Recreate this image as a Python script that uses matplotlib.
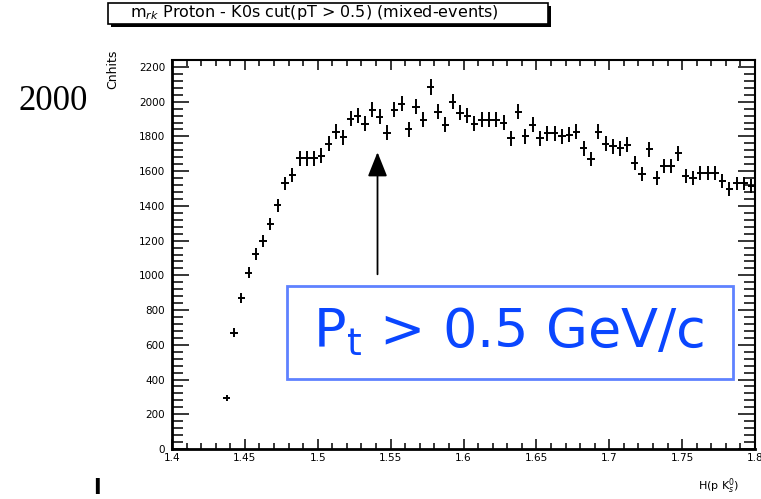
import numpy as np
import matplotlib
matplotlib.use("Agg")
import matplotlib.pyplot as plt
from matplotlib.patches import Rectangle
from matplotlib.ticker import MultipleLocator, FormatStrFormatter

# invariant mass histogram, 0.005 GeV bins starting at 1.435
bin_lo = 1.435
bin_w = 0.005
counts = [292, 670, 871, 1014, 1123, 1198, 1295, 1404, 1530, 1576,
          1673, 1673, 1673, 1690, 1759, 1828, 1795, 1903, 1920, 1874,
          1954, 1914, 1822, 1954, 1989, 1840, 1971, 1897, 2086, 1943,
          1868, 2000, 1937, 1920, 1874, 1897, 1897, 1897, 1880, 1788,
          1943, 1800, 1868, 1788, 1817, 1817, 1800, 1811, 1828, 1731,
          1668, 1828, 1759, 1742, 1731, 1753, 1645, 1582, 1725, 1559,
          1628, 1628, 1702, 1570, 1559, 1587, 1587, 1587, 1542, 1496,
          1530, 1530, 1513]

title = r"m$_{rk}$ Proton - K0s cut(pT > 0.5) (mixed-events)"
cut_label = r"P$_{\rm t}$ > 0.5 GeV/c"
arrow_x = 1.541
arrow_tip = 1725
arrow_tail = 990

W, H = 761, 499
fig = plt.figure(figsize=(W / 100, H / 100), dpi=100)


def fx(px):
    return px / W


def fy(py):
    return 1 - py / H


ax = fig.add_axes([fx(172), fy(449), fx(755) - fx(172), fy(60) - fy(449)])

counts = np.array(counts, dtype=float)
centers = bin_lo + bin_w * (np.arange(len(counts)) + 0.5)
ax.errorbar(centers, counts, xerr=bin_w / 2, yerr=np.sqrt(counts),
            fmt="none", ecolor="black", elinewidth=1.4, capsize=0)

ax.set_xlim(1.4, 1.8)
ax.set_ylim(0, 2240)

ax.xaxis.set_major_locator(MultipleLocator(0.05))
ax.xaxis.set_minor_locator(MultipleLocator(0.01))
ax.yaxis.set_major_locator(MultipleLocator(200))
ax.yaxis.set_minor_locator(MultipleLocator(40))
ax.xaxis.set_major_formatter(FormatStrFormatter("%g"))

ax.tick_params(axis="both", which="both", direction="in", top=True, right=True,
               labelsize=7.5, width=1.1, colors="black")
ax.tick_params(axis="x", which="major", length=7, pad=3)
ax.tick_params(axis="x", which="minor", length=4)
ax.tick_params(axis="y", which="major", length=12, pad=5)
ax.tick_params(axis="y", which="minor", length=8)

for side in ["left", "bottom"]:
    ax.spines[side].set_linewidth(2)
for side in ["top", "right"]:
    ax.spines[side].set_linewidth(1.5)

# title pave with shadow
fig.patches.append(Rectangle((fx(111), fy(27)), fx(548) - fx(108), fy(3) - fy(24),
                             transform=fig.transFigure, facecolor="black",
                             edgecolor="none", zorder=1))
fig.patches.append(Rectangle((fx(108), fy(24)), fx(548) - fx(108), fy(3) - fy(24),
                             transform=fig.transFigure, facecolor="white",
                             edgecolor="black", linewidth=1.2, zorder=2))
fig.text(fx(130), fy(13), title, fontsize=11.5, va="center", ha="left", zorder=3)

# axis titles and loose labels
fig.text(fx(113), fy(50), "Cnhits", rotation=90, fontsize=9, ha="center", va="top")
fig.text(fx(698), fy(486), r"H(p K$^{0}_{s}$)", fontsize=8, ha="left", va="center")
fig.text(fx(53), fy(101), "2000", family="Liberation Serif", fontsize=25,
         ha="center", va="center")
fig.text(fx(97), fy(488), "I", fontsize=15, fontweight="bold", ha="center", va="center")

# cut annotation
ax.annotate("", xy=(arrow_x, arrow_tip), xytext=(arrow_x, arrow_tail),
            arrowprops=dict(arrowstyle="-|>,head_length=1.5,head_width=0.6",
                            color="black", lw=1.3))
fig.patches.append(Rectangle((fx(287), fy(379)), fx(733) - fx(287), fy(286) - fy(379),
                             transform=fig.transFigure, facecolor="white",
                             edgecolor="#5f82ff", linewidth=2, zorder=4))
fig.text(fx(509), fy(347), cut_label, color="#0a46ff", fontsize=39,
         ha="center", va="baseline", zorder=5)

fig.savefig("out.png", dpi=100)
